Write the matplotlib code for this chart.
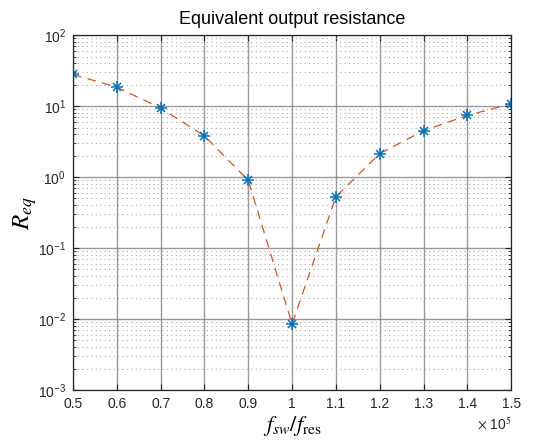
import matplotlib.pyplot as plt
import numpy as np
from matplotlib.ticker import LogLocator, NullFormatter, FixedLocator

# switching frequency (Hz) and equivalent resistance
f_sw = [50000, 60000, 70000, 80000, 90000, 100000, 110000, 120000, 130000, 140000, 150000]
r_eq = [28.0, 18.5, 9.4, 3.8, 0.9, 0.0085, 0.53, 2.15, 4.5, 7.4, 10.8]
x_ticks = [0.5, 0.6, 0.7, 0.8, 0.9, 1, 1.1, 1.2, 1.3, 1.4, 1.5]
x_tick_labels = ['0.5', '0.6', '0.7', '0.8', '0.9', '1', '1.1', '1.2', '1.3', '1.4', '1.5']

plt.rcParams['font.family'] = ['Liberation Sans', 'DejaVu Sans']
plt.rcParams['mathtext.fontset'] = 'stix'

blue = (0, 0.447, 0.741)
orange = (0.85, 0.325, 0.098)

fig = plt.figure(figsize=(5.33, 4.4), dpi=100)
ax = fig.add_axes([0.137, 0.1136, 0.822, 0.8064])

x = np.array(f_sw) / 1e5
ax.semilogy(x, r_eq, color=orange, lw=0.9, ls=(0, (7, 5)))
# matlab style asterisk: plus and cross on top of each other
ax.semilogy(x, r_eq, ls='none', marker='+', markersize=8, markeredgecolor=blue, markeredgewidth=1.1)
ax.semilogy(x, r_eq, ls='none', marker='x', markersize=6, markeredgecolor=blue, markeredgewidth=1.1)

ax.set_xlim(0.5, 1.5)
ax.set_ylim(1e-3, 1e2)
ax.xaxis.set_major_locator(FixedLocator(x_ticks))
ax.set_xticklabels(x_tick_labels)
ax.yaxis.set_major_locator(LogLocator(base=10, numticks=10))
ax.yaxis.set_minor_locator(LogLocator(base=10, subs=np.arange(2, 10), numticks=10))
ax.yaxis.set_minor_formatter(NullFormatter())

ax.grid(which='major', color='0.5', lw=1.0, ls='-', alpha=0.8)
ax.grid(which='minor', axis='y', color='0.65', lw=0.8, ls=(0, (1, 3)))
ax.set_axisbelow(True)

ax.tick_params(which='both', direction='in', top=True, right=True,
               labelsize=10, colors='0.15')
ax.tick_params(which='major', length=4, pad=5)
ax.tick_params(which='minor', length=2)
for s in ax.spines.values():
    s.set_color('0.15')
    s.set_linewidth(0.9)

ax.set_title('Equivalent output resistance', fontsize=13, pad=8)
ax.set_ylabel(r'$R_{eq}$', fontsize=18, labelpad=-1)
ax.set_xlabel(r'$f_{sw}/f_{\rm res}$', fontsize=16, labelpad=2)
ax.text(1.0, -0.075, r'$\times$ 10$^5$', transform=ax.transAxes, ha='right',
        va='top', fontsize=10, color='0.15', family='Liberation Sans')

fig.savefig('out.png', dpi=100)
